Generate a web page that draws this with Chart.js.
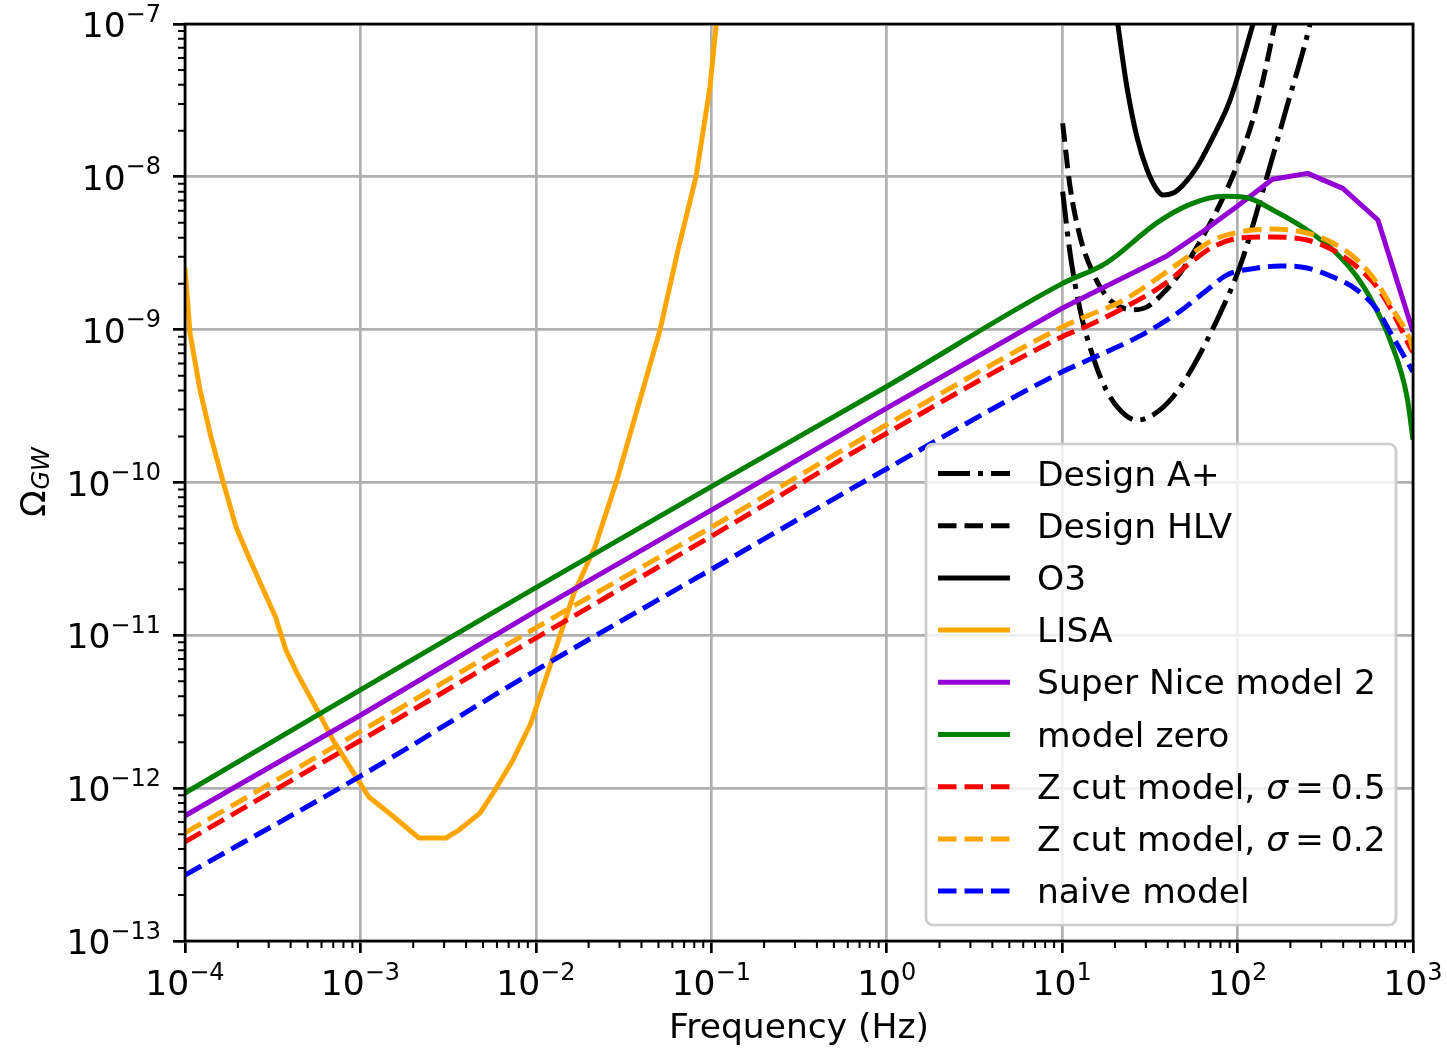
<!DOCTYPE html>
<html>
<head>
<meta charset="utf-8">
<script src="https://cdn.jsdelivr.net/npm/chart.js"></script>
<style>
  html, body { margin: 0; padding: 0; background: #fff; }
  canvas { display: block; }
</style>
</head>
<body>
<canvas id="chart" width="1447" height="1050"></canvas>
<script>
// frequency (Hz) and Omega_GW

// detector curves
const freqAplus = [10.07, 11.1, 12.65, 14.4, 17.1, 20.6, 26.7, 33.0, 42.9, 55.7, 76.4, 103, 147, 191, 259, 270];
const omegaAplus = [8.0e-9, 3.16e-9, 1.35e-9, 7.7e-10, 4.46e-10, 3.13e-10, 2.56e-10, 2.77e-10, 3.64e-10, 5.73e-10, 1.16e-9, 2.58e-9, 1.0e-8, 2.88e-8, 1.0e-7, 1.25e-7];

const freqHLV = [10.07, 11.1, 12.65, 15.0, 18.0, 21.4, 25.4, 30.5, 37.6, 47.0, 58.7, 76.4, 99.3, 129, 163, 170];
const omegaHLV = [2.24e-8, 8.6e-9, 4.06e-9, 2.34e-9, 1.64e-9, 1.41e-9, 1.35e-9, 1.41e-9, 1.73e-9, 2.34e-9, 3.49e-9, 6.07e-9, 1.19e-8, 2.95e-8, 1.0e-7, 1.3e-7];

const freqO3 = [20.4, 23.4, 26.7, 30.5, 34.8, 37.6, 42.9, 48.9, 58.7, 72.4, 90.6, 122.5, 126];
const omegaO3 = [1.15e-7, 3.87e-8, 1.82e-8, 1.11e-8, 8.2e-9, 7.6e-9, 7.83e-9, 8.85e-9, 1.16e-8, 1.82e-8, 3.18e-8, 1.0e-7, 1.12e-7];

const freqLISA = [1.0e-4, 1.068e-4, 1.218e-4, 1.406e-4, 1.626e-4, 1.953e-4, 2.347e-4, 3.28e-4, 3.764e-4, 4.35e-4,
  5.80e-4, 6.97e-4, 9.69e-4, 1.119e-3, 1.553e-3, 2.157e-3, 3.075e-3, 3.647e-3, 4.80e-3, 5.85e-3,
  7.41e-3, 9.38e-3, 1.236e-2, 1.650e-2, 2.173e-2, 2.90e-2, 5.10e-2, 6.46e-2, 8.18e-2, 9.83e-2, 1.08e-1];
const omegaLISA = [2.53e-9, 9.5e-10, 4.03e-10, 1.99e-10, 1.07e-10, 5.12e-11, 3.11e-11, 1.32e-11, 8.0e-12, 5.66e-12,
  3.10e-12, 2.07e-12, 1.13e-12, 8.75e-13, 6.47e-13, 4.72e-13, 4.72e-13, 5.32e-13, 6.87e-13, 9.72e-13,
  1.53e-12, 2.67e-12, 6.89e-12, 1.89e-11, 3.78e-11, 1.04e-10, 9.95e-10, 3.32e-9, 9.98e-9, 3.87e-8, 1.15e-7];

// background models
const freqSuperNice = [1e-4, 1e-3, 1e-2, 1e-1, 1, 10, 15.8, 25.1, 39.8, 63.1, 100, 158, 251, 398, 631, 1000];
const omegaSuperNice = [6.6e-13, 3.0e-12, 1.44e-11, 6.6e-11, 3.07e-10, 1.38e-9, 1.80e-9, 2.34e-9, 3.05e-9, 4.37e-9, 6.45e-9, 9.64e-9, 1.054e-8, 8.41e-9, 5.22e-9, 9.7e-10];

const freqModelZero = [1e-4, 1e-3, 1e-2, 1e-1, 1, 10, 18, 34.7, 53.6, 82.6, 113, 159, 249, 350, 480, 592, 740, 925, 1000];
const omegaModelZero = [9.3e-13, 4.4e-12, 2.05e-11, 9.4e-11, 4.25e-10, 2.0e-9, 2.75e-9, 5.0e-9, 6.6e-9, 7.45e-9, 7.3e-9, 6.07e-9, 4.49e-9, 3.32e-9, 2.21e-9, 1.49e-9, 8.55e-10, 3.62e-10, 1.9e-10];

const freqZcut = [1e-4, 1e-3, 1e-2, 1e-1, 1, 10, 13.2, 22.2, 39.6, 53.6, 72.4, 103, 159, 249, 350, 480, 624, 769, 962, 1000];
const omegaZcut05 = [4.45e-13, 2.05e-12, 9.6e-12, 4.45e-11, 2.1e-10, 9.0e-10, 1.03e-9, 1.38e-9, 2.04e-9, 2.73e-9, 3.48e-9, 3.98e-9, 4.04e-9, 3.86e-9, 3.32e-9, 2.57e-9, 1.90e-9, 1.29e-9, 7.7e-10, 7.1e-10];
const omegaZcut02 = [5.1e-13, 2.35e-12, 1.12e-11, 5.1e-11, 2.39e-10, 1.04e-9, 1.2e-9, 1.55e-9, 2.40e-9, 3.08e-9, 3.86e-9, 4.36e-9, 4.56e-9, 4.29e-9, 3.69e-9, 2.86e-9, 2.02e-9, 1.35e-9, 8.55e-10, 7.4e-10];

const freqNaive = [1e-4, 1e-3, 1e-2, 1e-1, 1, 10, 14.4, 27.8, 47, 67, 87, 129, 175, 249, 350, 480, 624, 769, 986, 1000];
const omegaNaive = [2.7e-13, 1.2e-12, 5.9e-12, 2.7e-11, 1.23e-10, 5.3e-10, 6.4e-10, 9.1e-10, 1.32e-9, 1.82e-9, 2.28e-9, 2.53e-9, 2.61e-9, 2.53e-9, 2.21e-9, 1.82e-9, 1.35e-9, 8.95e-10, 5.45e-10, 5.3e-10];

const seriesLabels = ['Design A+', 'Design HLV', 'O3', 'LISA', 'Super Nice model 2', 'model zero',
  'Z cut model, σ = 0.5', 'Z cut model, σ = 0.2', 'naive model'];

const xTickValues = [1e-4, 1e-3, 1e-2, 1e-1, 1e0, 1e1, 1e2, 1e3];
const xTickLabels = ['10^−4', '10^−3', '10^−2', '10^−1', '10^0', '10^1', '10^2', '10^3'];
const yTickValues = [1e-13, 1e-12, 1e-11, 1e-10, 1e-9, 1e-8, 1e-7];
const yTickLabels = ['10^−13', '10^−12', '10^−11', '10^−10', '10^−9', '10^−8', '10^−7'];

const FONT = "'DejaVu Sans', sans-serif";
const FS = 34.5;   // main text size
const FS_SMALL = 24; // exponents and subscript
Chart.defaults.font.family = FONT;
Chart.defaults.color = '#000';

const LW = 5;
const DASHED = [18.5, 8];
const DASHDOT = [32, 8, 5, 8];

function points(freq, omega) {
  return freq.map((f, i) => ({ x: f, y: omega[i] }));
}

function series(i, freq, omega, color, dash, smooth) {
  return {
    label: seriesLabels[i],
    data: points(freq, omega),
    borderColor: color,
    backgroundColor: color,
    borderWidth: LW,
    borderDash: dash,
    borderCapStyle: 'butt',
    borderJoinStyle: 'round',
    cubicInterpolationMode: smooth ? 'monotone' : 'default',
    tension: 0,
    capBezierPoints: false,
    pointRadius: 0,
    fill: false,
    clip: 0,
    order: seriesLabels.length - i
  };
}

const datasets = [
  series(0, freqAplus, omegaAplus, '#000000', DASHDOT, true),
  series(1, freqHLV, omegaHLV, '#000000', DASHED, true),
  series(2, freqO3, omegaO3, '#000000', [], true),
  series(3, freqLISA, omegaLISA, '#ffa500', [], false),
  series(4, freqSuperNice, omegaSuperNice, '#9400d3', [], false),
  series(5, freqModelZero, omegaModelZero, '#008000', [], true),
  series(6, freqZcut, omegaZcut05, '#ff0000', DASHED, true),
  series(7, freqZcut, omegaZcut02, '#ffa500', DASHED, true),
  series(8, freqNaive, omegaNaive, '#0000ff', DASHED, true)
];

// "10^-4" style label: base plus a raised, smaller exponent
function powerLabel(ctx, label, x, baseline, align) {
  const [base, exp] = label.split('^');
  ctx.font = FS + 'px ' + FONT;
  const wb = ctx.measureText(base).width;
  ctx.font = FS_SMALL + 'px ' + FONT;
  const we = ctx.measureText(exp).width;
  const left = align === 'right' ? x - wb - we : x - (wb + we) / 2;
  ctx.font = FS + 'px ' + FONT;
  ctx.fillText(base, left, baseline);
  ctx.font = FS_SMALL + 'px ' + FONT;
  ctx.fillText(exp, left + wb, baseline - 15.5);
}

// tick labels, minor ticks, axes frame, legend box and y-axis label
const extras = {
  id: 'extras',
  afterDatasetsDraw(chart) {
    const { ctx, chartArea: a, scales } = chart;
    ctx.save();

    ctx.strokeStyle = '#000';
    ctx.lineWidth = 2;
    ctx.beginPath();
    for (let e = -4; e < 3; e++) {
      for (let m = 2; m < 10; m++) {
        const px = scales.x.getPixelForValue(m * Math.pow(10, e));
        ctx.moveTo(px, a.bottom);
        ctx.lineTo(px, a.bottom + 7);
      }
    }
    for (let e = -13; e < -7; e++) {
      for (let m = 2; m < 10; m++) {
        const py = scales.y.getPixelForValue(m * Math.pow(10, e));
        ctx.moveTo(a.left, py);
        ctx.lineTo(a.left - 7, py);
      }
    }
    ctx.stroke();

    ctx.lineWidth = 2.7;
    ctx.strokeRect(a.left, a.top, a.right - a.left, a.bottom - a.top);

    ctx.fillStyle = '#000';
    ctx.textBaseline = 'alphabetic';
    ctx.textAlign = 'left';
    xTickValues.forEach((v, i) => {
      powerLabel(ctx, xTickLabels[i], scales.x.getPixelForValue(v), a.bottom + 54, 'center');
    });
    yTickValues.forEach((v, i) => {
      powerLabel(ctx, yTickLabels[i], a.left - 24, scales.y.getPixelForValue(v) + 13, 'right');
    });

    // legend, lower right
    const bw = 470, bh = 481;
    const bx = a.right - 17 - bw, by = a.bottom - 16 - bh;
    ctx.beginPath();
    ctx.roundRect(bx, by, bw, bh, 7);
    ctx.fillStyle = 'rgba(255,255,255,0.8)';
    ctx.fill();
    ctx.strokeStyle = '#cccccc';
    ctx.lineWidth = 2.7;
    ctx.stroke();

    chart.data.datasets.forEach((ds, i) => {
      const ly = by + 29.5 + i * 52.2;
      ctx.beginPath();
      ctx.setLineDash(ds.borderDash || []);
      ctx.lineCap = 'butt';
      ctx.strokeStyle = ds.borderColor;
      ctx.lineWidth = LW;
      ctx.moveTo(bx + 12, ly);
      ctx.lineTo(bx + 84, ly);
      ctx.stroke();
      ctx.setLineDash([]);

      ctx.fillStyle = '#000';
      let tx = bx + 111;
      const parts = ds.label.split('σ');
      parts.forEach((p, k) => {
        if (k > 0) {
          ctx.font = 'italic ' + FS + 'px ' + FONT;
          ctx.fillText('σ', tx, ly + 12);
          tx += ctx.measureText('σ').width;
          p = p.replace(' = ', '\u2009=\u2009');
        }
        ctx.font = FS + 'px ' + FONT;
        ctx.fillText(p, tx, ly + 12);
        tx += ctx.measureText(p).width;
      });
    });

    // y-axis label: Omega with subscript GW
    const cy = (a.top + a.bottom) / 2;
    ctx.translate(45, cy);
    ctx.rotate(-Math.PI / 2);
    ctx.font = FS + 'px ' + FONT;
    const w1 = ctx.measureText('Ω').width;
    ctx.font = 'italic ' + FS_SMALL + 'px ' + FONT;
    const w2 = ctx.measureText('GW').width;
    const start = -(w1 + w2) / 2;
    ctx.fillStyle = '#000';
    ctx.font = FS + 'px ' + FONT;
    ctx.fillText('Ω', start, 0);
    ctx.font = 'italic ' + FS_SMALL + 'px ' + FONT;
    ctx.fillText('GW', start + w1 + 1, 4);

    ctx.restore();
  }
};

new Chart(document.getElementById('chart'), {
  type: 'line',
  data: { datasets },
  plugins: [extras],
  options: {
    responsive: false,
    animation: false,
    layout: { padding: { left: 0, top: 24, right: 34, bottom: 0 } },
    plugins: { legend: { display: false }, tooltip: { enabled: false } },
    scales: {
      x: {
        type: 'logarithmic',
        min: 1e-4,
        max: 1e3,
        afterBuildTicks: s => { s.ticks = xTickValues.map(v => ({ value: v })); },
        afterFit: s => { s.height = 109; s.paddingLeft = 0; s.paddingRight = 0; },
        ticks: { display: false, autoSkip: false, maxRotation: 0 },
        grid: { color: '#b0b0b0', lineWidth: 2.7, tickColor: '#000', tickWidth: 2.7, tickLength: 12 },
        border: { display: false },
        title: { display: true, text: 'Frequency (Hz)', color: '#000', font: { size: FS }, padding: 0 }
      },
      y: {
        type: 'logarithmic',
        min: 1e-13,
        max: 1e-7,
        afterBuildTicks: s => { s.ticks = yTickValues.map(v => ({ value: v })); },
        afterFit: s => { s.width = 185; s.paddingTop = 0; s.paddingBottom = 0; },
        ticks: { display: false, autoSkip: false },
        grid: { color: '#b0b0b0', lineWidth: 2.7, tickColor: '#000', tickWidth: 2.7, tickLength: 12 },
        border: { display: false },
        title: { display: false }
      }
    }
  }
});
</script>
</body>
</html>
